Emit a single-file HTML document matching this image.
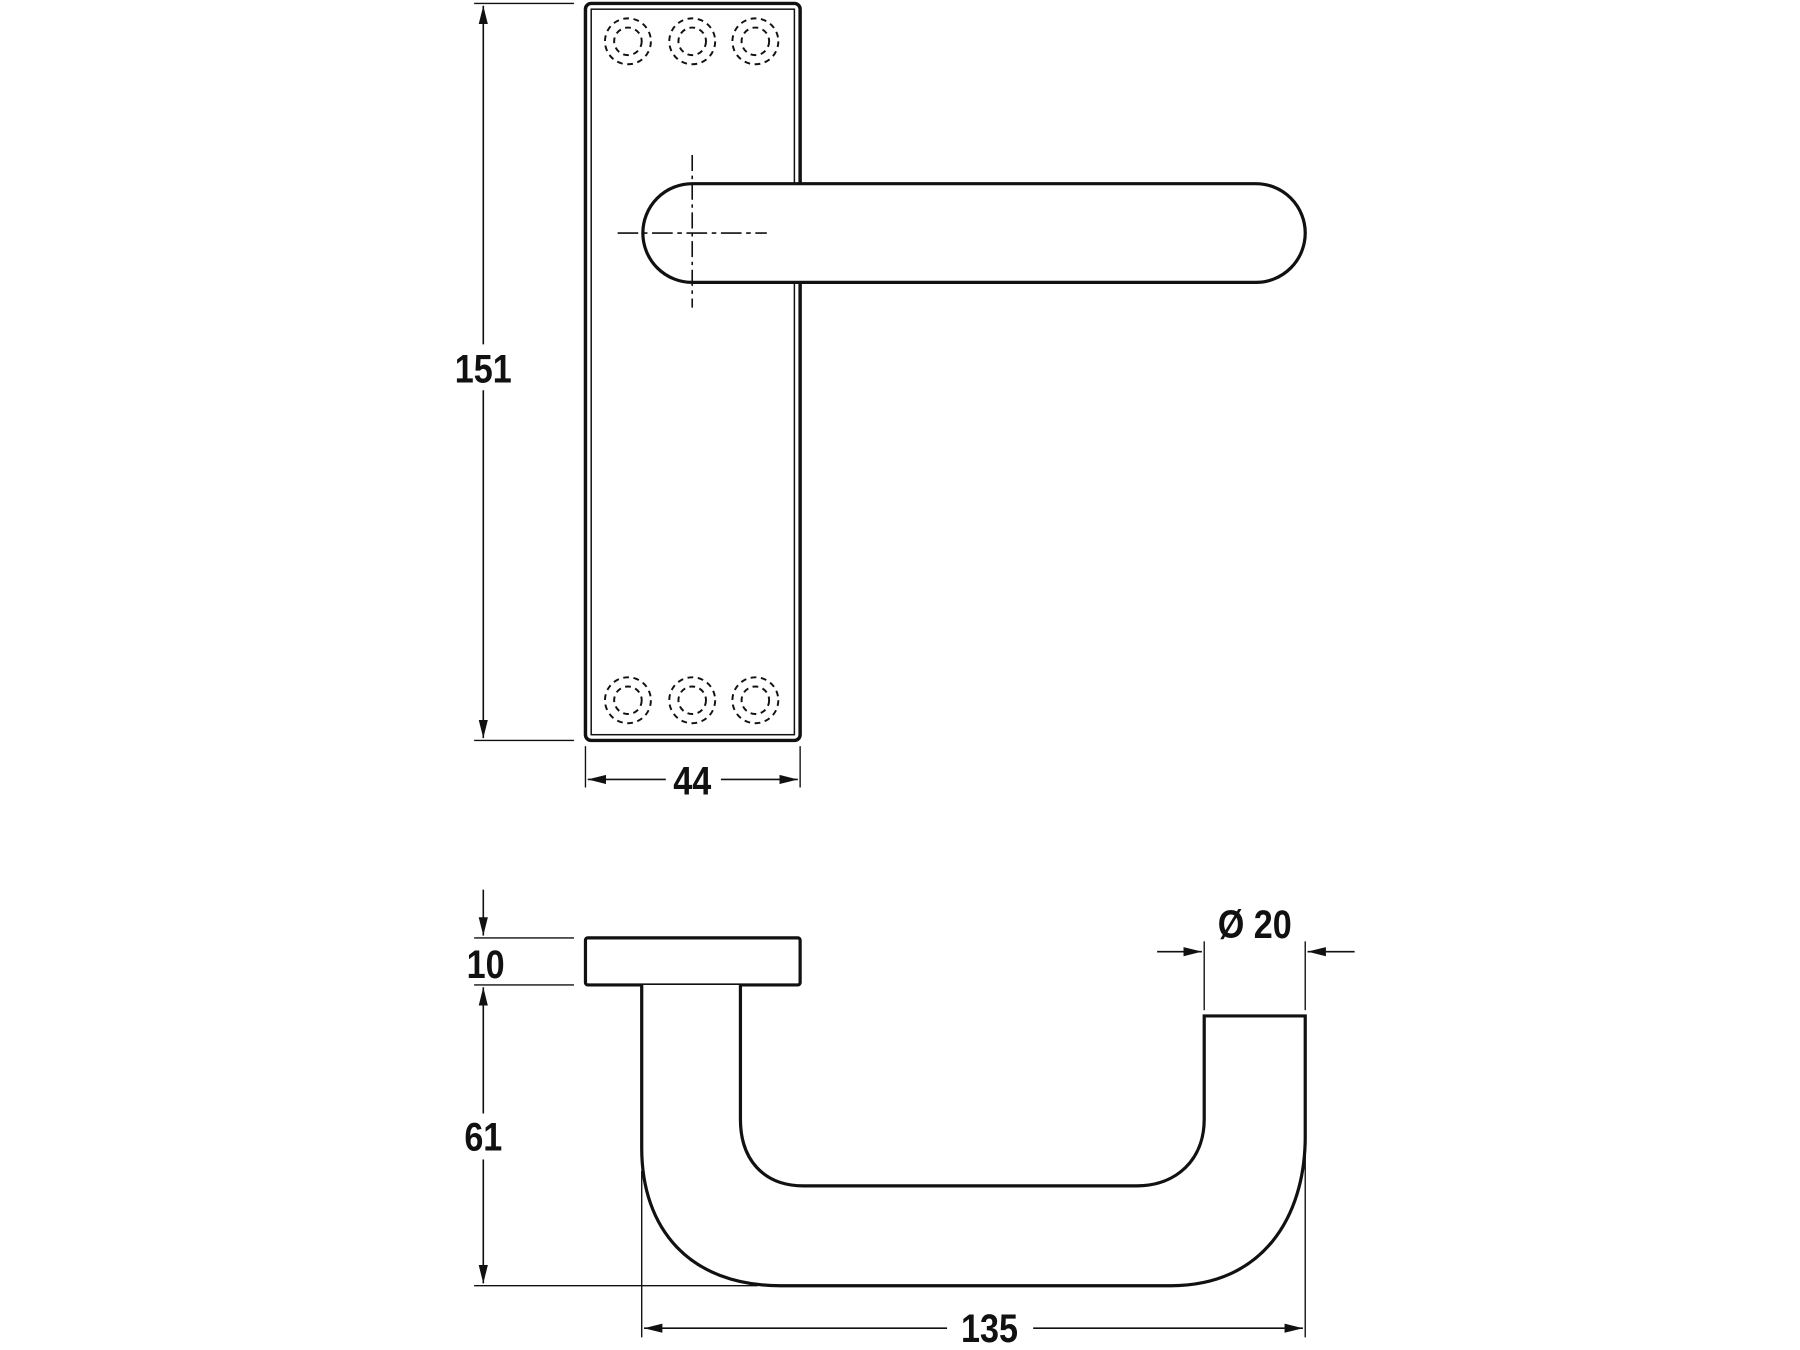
<!DOCTYPE html>
<html><head><meta charset="utf-8"><style>
html,body{margin:0;padding:0;background:#fff}
svg{display:block}
text{font-family:"Liberation Sans",sans-serif;font-weight:bold;font-size:35px;fill:#111}
</style></head><body>
<svg width="1800" height="1350" viewBox="0 0 1568 1176" xmlns="http://www.w3.org/2000/svg">
<defs>
<marker id="a" viewBox="0 0 16 8" refX="16" refY="4" markerWidth="16" markerHeight="8" markerUnits="userSpaceOnUse" orient="auto-start-reverse"><path d="M0,0 L16,4 L0,8 z" fill="#111"/></marker>
</defs>
<g stroke="#111" fill="none">
<rect x="510" y="3" width="187" height="642" rx="5" stroke-width="3"/>
<rect x="515" y="8" width="177" height="632" stroke-width="1.3"/>
<g stroke-dasharray="5,4" stroke-width="1.7">
<ellipse cx="547" cy="36" rx="20" ry="20"/><ellipse cx="547" cy="36" rx="12" ry="12"/>
<ellipse cx="603" cy="36" rx="20" ry="20"/><ellipse cx="603" cy="36" rx="12" ry="12"/>
<ellipse cx="658" cy="36" rx="20" ry="20"/><ellipse cx="658" cy="36" rx="12" ry="12"/>
<ellipse cx="547" cy="610" rx="20" ry="20"/><ellipse cx="547" cy="610" rx="12" ry="12"/>
<ellipse cx="603" cy="610" rx="20" ry="20"/><ellipse cx="603" cy="610" rx="12" ry="12"/>
<ellipse cx="658" cy="610" rx="20" ry="20"/><ellipse cx="658" cy="610" rx="12" ry="12"/>
</g>
<rect x="560" y="160" width="577" height="86" rx="43" fill="#fff" stroke-width="2.8"/>
<line x1="603" y1="135" x2="603" y2="268" stroke-width="1.4" stroke-dasharray="14,4,3,4"/>
<line x1="538" y1="203" x2="668" y2="203" stroke-width="1.4" stroke-dasharray="18,4,4,4"/>
<line x1="413" y1="3" x2="500" y2="3" stroke-width="1.2"/>
<line x1="413" y1="645" x2="500" y2="645" stroke-width="1.2"/>
<line x1="421" y1="300" x2="421" y2="5" stroke-width="1.4" marker-end="url(#a)"/>
<line x1="421" y1="340" x2="421" y2="643" stroke-width="1.4" marker-end="url(#a)"/>
<line x1="510" y1="650" x2="510" y2="686" stroke-width="1.2"/>
<line x1="697" y1="650" x2="697" y2="686" stroke-width="1.2"/>
<line x1="580" y1="679" x2="512" y2="679" stroke-width="1.4" marker-end="url(#a)"/>
<line x1="628" y1="679" x2="695" y2="679" stroke-width="1.4" marker-end="url(#a)"/>
<rect x="510" y="817" width="187" height="41" rx="2" stroke-width="2.8"/>
<path d="M559,858 L559,1000 C559,1070 600,1120 680,1120 L1020,1120 C1100,1120 1137,1060 1137,990 L1137,885 L1049,885 L1049,975 C1049,1010 1025,1033 990,1033 L700,1033 C665,1033 645,1010 645,975 L645,858" stroke-width="2.8" fill="#fff"/>
<line x1="413" y1="817" x2="500" y2="817" stroke-width="1.2"/>
<line x1="413" y1="858" x2="500" y2="858" stroke-width="1.2"/>
<line x1="413" y1="1120" x2="660" y2="1120" stroke-width="1.2"/>
<line x1="421" y1="775" x2="421" y2="815" stroke-width="1.4" marker-end="url(#a)"/>
<line x1="421" y1="970" x2="421" y2="860" stroke-width="1.4" marker-end="url(#a)"/>
<line x1="421" y1="1010" x2="421" y2="1118" stroke-width="1.4" marker-end="url(#a)"/>
<line x1="1049" y1="820" x2="1049" y2="880" stroke-width="1.2"/>
<line x1="1137" y1="820" x2="1137" y2="880" stroke-width="1.2"/>
<line x1="1008" y1="829" x2="1047" y2="829" stroke-width="1.4" marker-end="url(#a)"/>
<line x1="1180" y1="829" x2="1139" y2="829" stroke-width="1.4" marker-end="url(#a)"/>
<line x1="559" y1="1020" x2="559" y2="1165" stroke-width="1.2"/>
<line x1="1137" y1="1000" x2="1137" y2="1165" stroke-width="1.2"/>
<line x1="825" y1="1157" x2="561" y2="1157" stroke-width="1.4" marker-end="url(#a)"/>
<line x1="900" y1="1157" x2="1135" y2="1157" stroke-width="1.4" marker-end="url(#a)"/>
</g>
<g transform="translate(421,333) scale(0.85,1)"><text text-anchor="middle">151</text></g>
<g transform="translate(603,692) scale(0.85,1)"><text text-anchor="middle">44</text></g>
<g transform="translate(423,852) scale(0.85,1)"><text text-anchor="middle">10</text></g>
<g transform="translate(421,1002) scale(0.85,1)"><text text-anchor="middle">61</text></g>
<g transform="translate(1093,817) scale(0.85,1)"><text text-anchor="middle">Ø 20</text></g>
<g transform="translate(862,1169) scale(0.85,1)"><text text-anchor="middle">135</text></g>
</svg>
</body></html>
